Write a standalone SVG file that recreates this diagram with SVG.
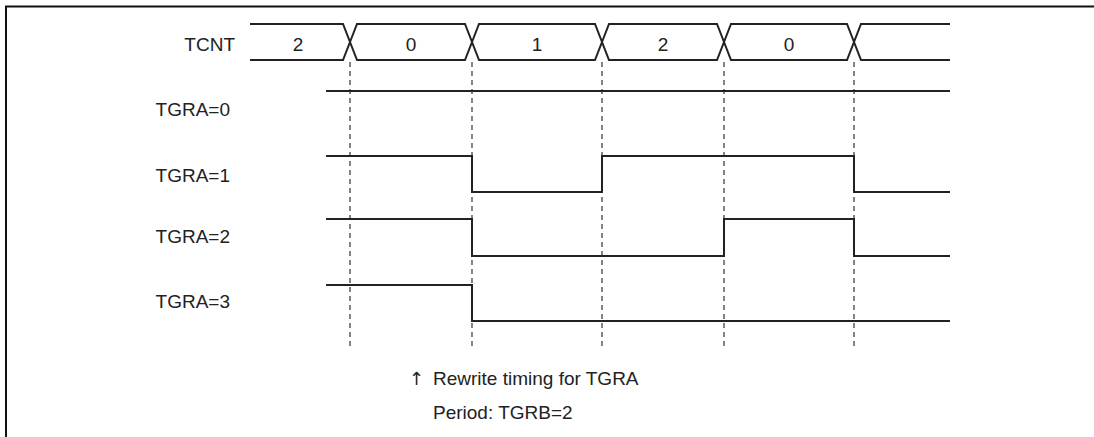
<svg xmlns="http://www.w3.org/2000/svg" width="1094" height="437" viewBox="0 0 1094 437">
<style>
.t{font-family:"Liberation Sans",Arial,sans-serif;font-size:19px;fill:#222}
.lbl{text-anchor:end}
.mid{text-anchor:middle}
.arr{font-family:"DejaVu Sans",sans-serif;font-size:18px;fill:#222}
.sig{fill:none;stroke:#222;stroke-width:2;stroke-linejoin:miter}
.dash{fill:none;stroke:#333;stroke-width:1.2;stroke-dasharray:5,4}
</style>
<rect width="1094" height="437" fill="#fff"/>
<path d="M6,440 V6.5 H1100" fill="none" stroke="#111" stroke-width="2"/>
<g id="connectors">
<path class="dash" d="M350,62 V346 M472,62 V346 M602,62 V346 M724,62 V346 M854,62 V346"/>
</g>
<g id="tcnt">
<text class="t lbl" x="235" y="51">TCNT</text>
<path class="sig" d="M250,24 H343 L350,42 L343,60 H250"/>
<path class="sig" d="M350,42 L357,24 H465 L472,42 L465,60 H357 Z"/>
<path class="sig" d="M472,42 L479,24 H595 L602,42 L595,60 H479 Z"/>
<path class="sig" d="M602,42 L609,24 H717 L724,42 L717,60 H609 Z"/>
<path class="sig" d="M724,42 L731,24 H847 L854,42 L847,60 H731 Z"/>
<path class="sig" d="M950,24 H861 L854,42 L861,60 H950"/>
<text class="t mid" x="298" y="51">2</text>
<text class="t mid" x="411" y="51">0</text>
<text class="t mid" x="537" y="51">1</text>
<text class="t mid" x="663" y="51">2</text>
<text class="t mid" x="789" y="51">0</text>
</g>
<g id="tgra0">
<text class="t lbl" x="230" y="116">TGRA=0</text>
<path class="sig" d="M326,91 H950"/>
</g>
<g id="tgra1">
<text class="t lbl" x="230" y="182">TGRA=1</text>
<path class="sig" d="M326,156 H472 V192 H602 V156 H854 V192 H950"/>
</g>
<g id="tgra2">
<text class="t lbl" x="230" y="243">TGRA=2</text>
<path class="sig" d="M326,219 H472 V256 H724 V219 H854 V256 H950"/>
</g>
<g id="tgra3">
<text class="t lbl" x="230" y="308">TGRA=3</text>
<path class="sig" d="M326,285 H472 V321 H950"/>
</g>
<g id="notes">
<text class="arr" x="409" y="385">↑</text>
<text class="t" x="433" y="385">Rewrite timing for TGRA</text>
<text class="t" x="433" y="419">Period: TGRB=2</text>
</g>
</svg>
